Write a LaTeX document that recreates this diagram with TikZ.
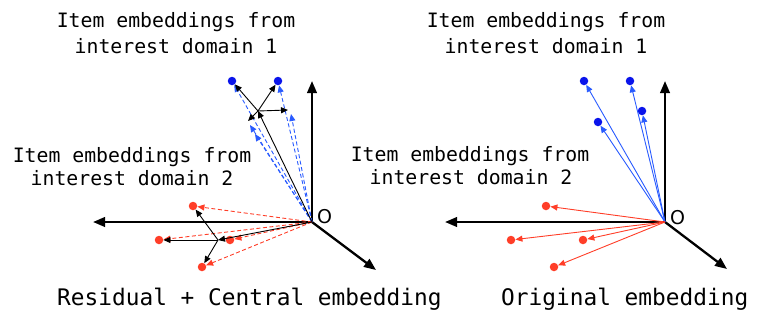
\documentclass[tikz,border=0pt]{standalone}
\usepackage{fontspec}
\newfontfamily\labelmono{DejaVu Sans Mono}
\newfontfamily\labelsans{DejaVu Sans}
\usetikzlibrary{arrows.meta}
\definecolor{embblue}{RGB}{40,90,255}
\definecolor{dotblue}{RGB}{10,20,235}
\definecolor{embred}{RGB}{255,62,40}
\begin{document}
\begin{tikzpicture}[x=1pt,y=-1pt,
  axis/.style={line width=2.3pt,-{Triangle[length=12pt,width=9.5pt]}},
  vec/.style={line width=0.9pt,-{Triangle[length=7pt,width=6pt]}},
  blackvec/.style={vec,draw=black},
  bluevec/.style={vec,draw=embblue},
  redvec/.style={vec,draw=embred},
  bluedash/.style={bluevec,dash pattern=on 4pt off 2.5pt},
  reddash/.style={redvec,dash pattern=on 4pt off 2.5pt},
  bdot/.style={circle,inner sep=0pt,minimum size=8.5pt,fill=dotblue},
  rdot/.style={circle,inner sep=0pt,minimum size=8.5pt,fill=embred},
  caption/.style={font=\labelmono\fontsize{19.8}{24}\selectfont,anchor=base,inner sep=0pt},
  title/.style={font=\labelmono\fontsize{22.8}{27}\selectfont,anchor=base west,inner sep=0pt},
  originlabel/.style={font=\labelsans\fontsize{19}{22}\selectfont,inner sep=0pt}
]
\useasboundingbox (0,0) rectangle (757,317);

% ---------- left diagram ----------
\coordinate (OL) at (312,222);
\coordinate (OLup) at (312,81);
\coordinate (OLleft) at (93,222);
\coordinate (OLdiag) at (376,270);
\node[bdot] (lb1) at (232,81) {};
\node[bdot] (lb2) at (278,81) {};
\coordinate (lb3) at (288,110);
\coordinate (lb4) at (248,121);
\coordinate (lb3d) at (291,114);
\coordinate (lb4d) at (250,125);
\coordinate (lb5d) at (255,134);
\coordinate (cbL) at (258,111);
\node[rdot] (lr1) at (193,206) {};
\node[rdot] (lr2) at (159,240) {};
\node[rdot] (lr3) at (230,240) {};
\node[rdot] (lr4) at (202,267) {};
\coordinate (crL) at (218,240);

\draw[axis] (OL) -- (OLup);
\draw[axis] (OL) -- (OLleft);
\draw[axis] (OL) -- (OLdiag);

\draw[bluedash] (OL) -- (lb1);
\draw[bluedash] (OL) -- (lb2);
\draw[bluedash] (OL) -- (lb3d);
\draw[bluedash] (OL) -- (lb4d);
\draw[bluedash] (OL) -- (lb5d);
\draw[reddash] (OL) -- (lr1);
\draw[reddash] (OL) -- (lr2);
\draw[reddash] (OL) -- (lr3);
\draw[reddash] (OL) -- (lr4);

\draw[blackvec] (OL) -- (cbL);
\draw[blackvec] (cbL) -- (lb1);
\draw[blackvec] (cbL) -- (lb2);
\draw[blackvec] (cbL) -- (lb3);
\draw[blackvec] (cbL) -- (lb4);
\draw[blackvec] (OL) -- (crL);
\draw[blackvec] (crL) -- (lr1);
\draw[blackvec] (crL) -- (lr2);
\draw[blackvec] (crL) -- (lr4);

\node[originlabel] (oL) at (324.5,217) {O};

% ---------- right diagram ----------
\coordinate (OR) at (665,222);
\coordinate (ORup) at (665,81);
\coordinate (ORleft) at (445,222);
\coordinate (ORdiag) at (727,269);
\node[bdot] (rb1) at (584,81) {};
\node[bdot] (rb2) at (630,81) {};
\node[bdot] (rb3) at (642,111) {};
\node[bdot] (rb4) at (598,122) {};
\node[rdot] (rr1) at (546,206) {};
\node[rdot] (rr2) at (511,240) {};
\node[rdot] (rr3) at (583,240) {};
\node[rdot] (rr4) at (554,267) {};

\draw[axis] (OR) -- (ORup);
\draw[axis] (OR) -- (ORleft);
\draw[axis] (OR) -- (ORdiag);
\foreach \t in {rb1,rb2,rb3,rb4} \draw[bluevec] (OR) -- (\t);
\foreach \t in {rr1,rr2,rr3,rr4} \draw[redvec] (OR) -- (\t);

\node[originlabel] (oR) at (677.5,218) {O};

% ---------- labels ----------
\node[caption] (tl1) at (176,27) {Item embeddings from};
\node[caption] (tl2) at (176,53) {interest domain 1};
\node[caption] (tr1) at (546,27) {Item embeddings from};
\node[caption] (tr2) at (546,53) {interest domain 1};
\node[caption] (ml1) at (132,162) {Item embeddings from};
\node[caption] (ml2) at (132,185) {interest domain 2};
\node[caption] (mr1) at (470,161) {Item embeddings from};
\node[caption] (mr2) at (471,184) {interest domain 2};
\node[title] (bl) at (57,305) {Residual + Central embedding};
\node[title] (br) at (501,305) {Original embedding};
\end{tikzpicture}
\end{document}
